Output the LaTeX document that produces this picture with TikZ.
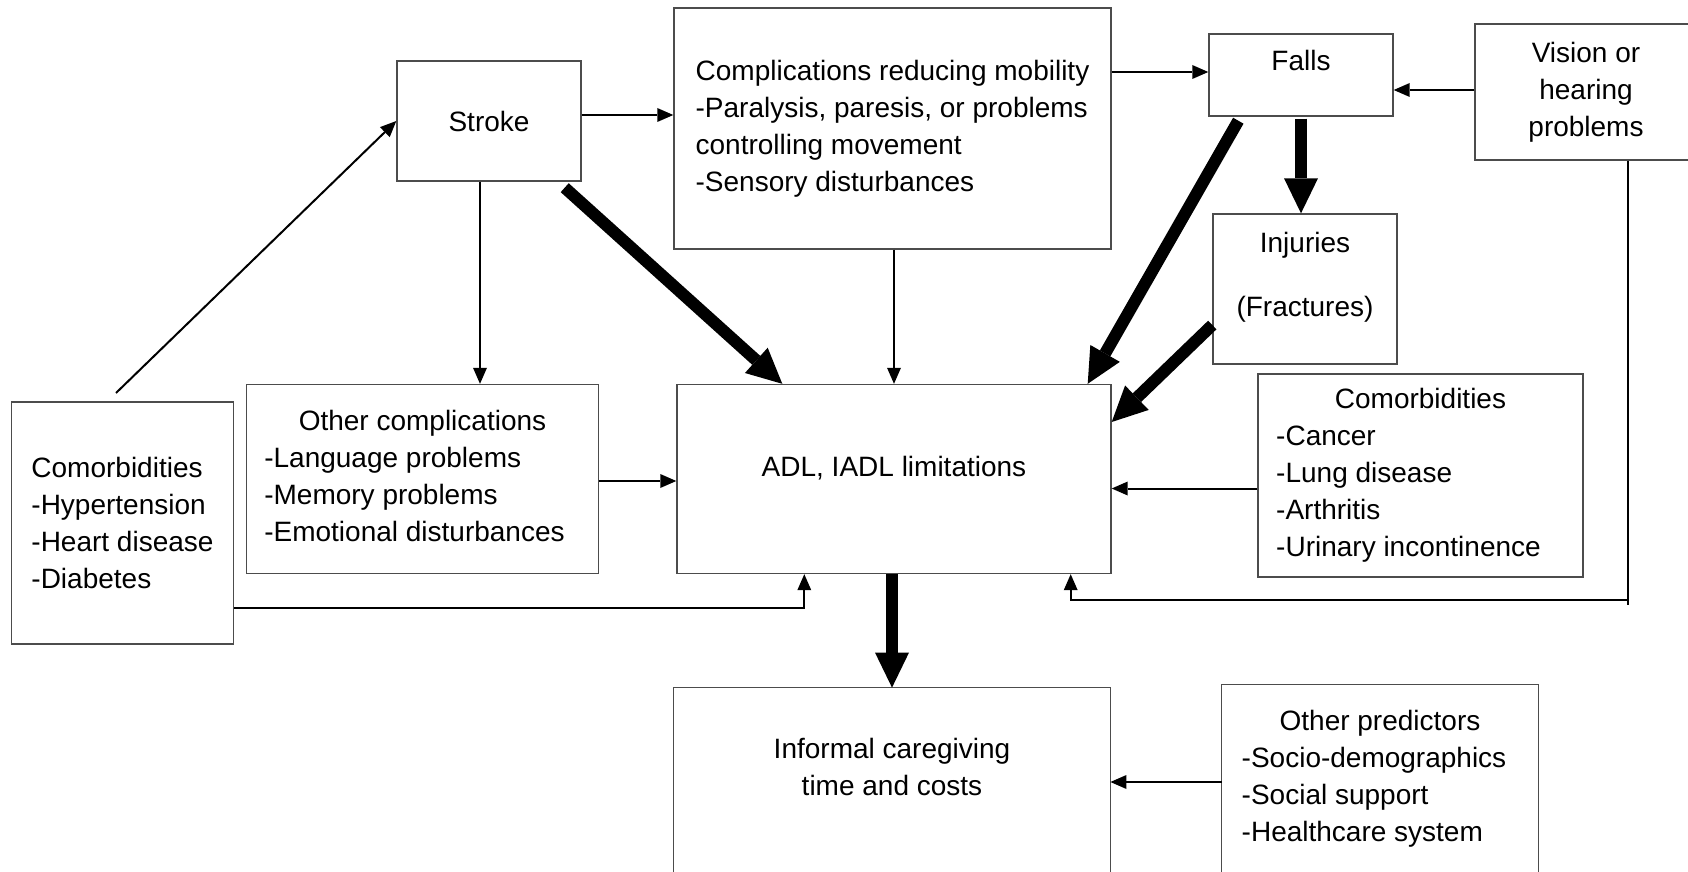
\documentclass[tikz,border=0pt]{standalone}
\usepackage{fontspec}
\setmainfont{Liberation Sans}
\usetikzlibrary{arrows.meta}
\tikzset{
  nbox/.style={draw=black!70, line width=0.7pt, inner sep=0pt, text=black,
    font=\fontsize{14pt}{18.5pt}\selectfont},
  obox/.style={inner sep=0pt, text=black, font=\fontsize{14pt}{18.5pt}\selectfont},
  boxline/.style={draw=black!70, line width=0.7pt},
  thinarrow/.style={draw=black, line width=1pt,
    -{Triangle[length=8pt,width=7pt,line width=0pt]}},
  thickarrow/.style={draw=black, line width=6pt,
    -{Triangle[length=17.5pt,width=17pt,line width=0pt]}},
}
\begin{document}
\begin{tikzpicture}[x=0.5pt,y=-0.5pt]
\useasboundingbox (0,0) rectangle (1688,872);
\clip (0,0) rectangle (1688,872);

% boxes
\node[nbox, minimum width=92pt, minimum height=60pt] (stroke) at (489,121) {Stroke};
\node[nbox, minimum width=218.5pt, minimum height=120.5pt, align=left] (comp) at (892.5,128.5)
  {Complications reducing mobility\\-Paralysis, paresis, or problems\\controlling movement\\-Sensory disturbances};
\node[nbox, minimum width=92pt, minimum height=41pt, text height=10pt, text depth=14pt] (falls) at (1301,75) {Falls};
\node[nbox, minimum width=111pt, minimum height=68pt, align=center] (vision) at (1586,92) {Vision or\\hearing\\problems};
\node[nbox, minimum width=92pt, minimum height=75pt] (inj) at (1305,289)
  {\parbox[c][75pt][t]{92pt}{\centering\vspace*{9pt}Injuries\\[13.5pt](Fractures)}};
\node[nbox, minimum width=176pt, minimum height=94.5pt] (ocomp) at (422.5,479)
  {\begin{tabular}{@{}l@{\hspace{8pt}}}\multicolumn{1}{@{}c@{}}{Other complications}\\-Language problems\\-Memory problems\\-Emotional disturbances\end{tabular}};
\node[nbox, minimum width=217pt, minimum height=94.5pt, text height=10pt, text depth=13pt] (adl) at (894,479) {ADL, IADL limitations};
\node[nbox, minimum width=111pt, minimum height=121pt, align=left] (comorbL) at (122.5,523)
  {Comorbidities\\-Hypertension\\-Heart disease\\-Diabetes};
\node[nbox, minimum width=162.5pt, minimum height=101.5pt] (comorbR) at (1420.5,475.5)
  {\begin{tabular}{@{}l@{\hspace{12pt}}}\multicolumn{1}{@{}c@{}}{Comorbidities}\\-Cancer\\-Lung disease\\-Arthritis\\-Urinary incontinence\end{tabular}};
\node[obox, minimum width=218pt, minimum height=78.5pt, align=center] (inf) at (892,766.5)
  {Informal caregiving\\time and costs};
\node[obox, minimum width=158pt, minimum height=94pt] (op) at (1380,779)
  {\begin{tabular}{@{}l@{\hspace{6pt}}}\multicolumn{1}{@{}c@{}}{Other predictors}\\-Socio-demographics\\-Social support\\-Healthcare system\end{tabular}};
\draw[boxline] ([yshift=-80pt]inf.south west) -- (inf.north west) -- (inf.north east) -- ([yshift=-80pt]inf.south east);
\draw[boxline] ([yshift=-80pt]op.south west) -- (op.north west) -- (op.north east) -- ([yshift=-80pt]op.south east);

% connectors
\coordinate (c1) at (116,393);
\draw[thinarrow] (c1) -- (stroke.west);
\draw[thinarrow] ([yshift=3pt]stroke.east) -- ([yshift=3pt]stroke.east -| comp.west);
\draw[thinarrow] ([yshift=1.5pt]falls.west -| comp.east) -- ([yshift=1.5pt]falls.west);
\draw[thinarrow] ([yshift=1pt]vision.west) -- ([yshift=1pt]vision.west -| falls.east);
\draw[thickarrow] ([yshift=-1pt]falls.south) -- (falls.south |- inj.north);
\draw[thickarrow] ([xshift=15pt,yshift=-2pt]falls.south west) -- ([xshift=-12pt]adl.north east);
\draw[thickarrow] ([yshift=-18pt]inj.west) -- ([yshift=28.5pt]adl.east);
\draw[thickarrow] ([xshift=-8.5pt,yshift=-3pt]stroke.south east) -- ([xshift=53pt]adl.north west);
\draw[thinarrow] ([xshift=-4.5pt]stroke.south) -- ([xshift=-4.5pt]stroke.south |- ocomp.north);
\draw[thinarrow] (comp.south -| adl.north) -- (adl.north);
\draw[thinarrow] ([yshift=-1pt]ocomp.east) -- ([yshift=-1pt]ocomp.east -| adl.west);
\draw[thinarrow] ([yshift=-6.5pt]comorbR.west) -- ([yshift=-6.5pt]comorbR.west -| adl.east);
\draw[thinarrow] ([yshift=-42.5pt]comorbL.east) -| ([xshift=64pt]adl.south west);
\coordinate (vb) at (1628,600);
\draw[thinarrow] ([xshift=21pt]vision.south) -- ([yshift=-2.5pt]vb) (vb) -| ([xshift=-20.5pt]adl.south east);
\draw[thickarrow] (adl.south -| inf.north) -- (inf.north);
\draw[thinarrow] ([yshift=-1.5pt]op.west) -- ([yshift=-1.5pt]op.west -| inf.east);
\end{tikzpicture}
\end{document}
